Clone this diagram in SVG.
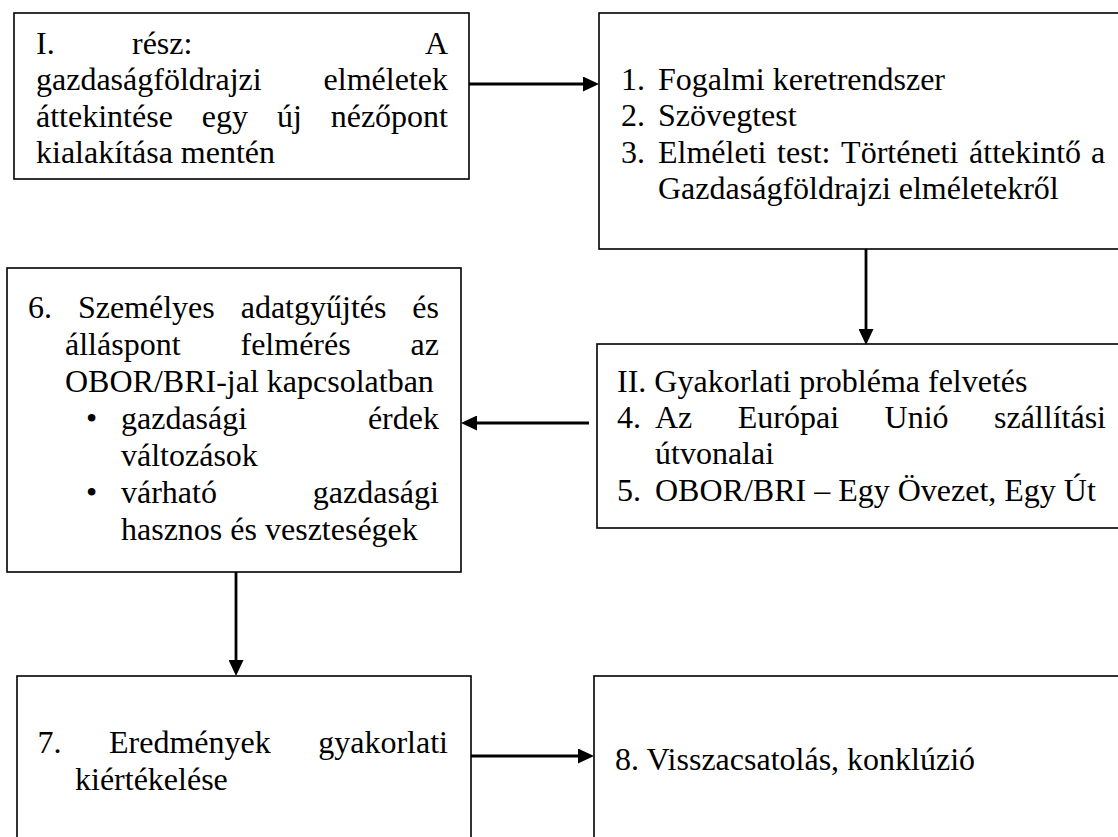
<svg xmlns="http://www.w3.org/2000/svg" width="1118" height="837" viewBox="0 0 1118 837">
  <style>
    .box { fill: #ffffff; stroke: #000000; stroke-width: 1.6; }
    .t { font-family: "Liberation Serif", "Times New Roman", serif; font-size: 32px; fill: #000000; }
    .conn { stroke: #000000; stroke-width: 2.8; fill: none; }
  </style>
  <defs>
    <marker id="head" markerUnits="userSpaceOnUse" markerWidth="16" markerHeight="15" refX="0" refY="7.5" orient="auto">
      <path d="M0,0 L16,7.5 L0,15 Z" fill="#000000"/>
    </marker>
  </defs>

  <rect width="1118" height="837" fill="#ffffff"/>

  <!-- Part I: overview of economic geography theories -->
  <g id="node-part1">
    <rect class="box" x="14" y="13" width="455" height="166"/>
    <text class="t" y="53.5"><tspan x="36">I.</tspan><tspan x="132">rész:</tspan><tspan x="424.9">A</tspan></text>
    <text class="t" y="90"><tspan x="36">gazdaságföldrajzi</tspan><tspan x="323.6">elméletek</tspan></text>
    <text class="t" y="126.5"><tspan x="36">áttekintése</tspan><tspan x="201.8">egy</tspan><tspan x="276.9">új</tspan><tspan x="330.7">nézőpont</tspan></text>
    <text class="t" x="36" y="163">kialakítása mentén</text>
  </g>

  <!-- Chapters 1-3 -->
  <g id="node-chapters-1-3">
    <rect class="box" x="599" y="13" width="530" height="236"/>
    <text class="t" y="89.5"><tspan x="621">1.</tspan><tspan x="658">Fogalmi keretrendszer</tspan></text>
    <text class="t" y="126"><tspan x="621">2.</tspan><tspan x="658">Szövegtest</tspan></text>
    <text class="t" y="162.5"><tspan x="621">3.</tspan><tspan x="658">Elméleti</tspan><tspan x="777.1">test:</tspan><tspan x="841.1">Történeti</tspan><tspan x="969.1">áttekintő</tspan><tspan x="1091">a</tspan></text>
    <text class="t" x="658" y="199">Gazdaságföldrajzi elméletekről</text>
  </g>

  <!-- Part II: practical problem, chapters 4-5 -->
  <g id="node-part2">
    <rect class="box" x="597" y="344" width="532" height="184"/>
    <text class="t" x="617" y="391.5">II. Gyakorlati probléma felvetés</text>
    <text class="t" y="427.5"><tspan x="617">4.</tspan><tspan x="655">Az</tspan><tspan x="737.8">Európai</tspan><tspan x="884.6">Unió</tspan><tspan x="994">szállítási</tspan></text>
    <text class="t" x="655" y="464">útvonalai</text>
    <text class="t" y="501"><tspan x="617">5.</tspan><tspan x="655">OBOR/BRI – Egy Övezet, Egy Út</tspan></text>
  </g>

  <!-- Chapter 6: data collection and survey -->
  <g id="node-chapter6">
    <rect class="box" x="7" y="268" width="454" height="304"/>
    <text class="t" y="318"><tspan x="28">6.</tspan><tspan x="77.9">Személyes</tspan><tspan x="240.7">adatgyűjtés</tspan><tspan x="412.3">és</tspan></text>
    <text class="t" y="355"><tspan x="65">álláspont</tspan><tspan x="240.5">felmérés</tspan><tspan x="410.6">az</tspan></text>
    <text class="t" x="65" y="392">OBOR/BRI-jal kapcsolatban</text>
    <text class="t" y="429"><tspan x="86">•</tspan><tspan x="121">gazdasági</tspan><tspan x="367.9">érdek</tspan></text>
    <text class="t" x="121" y="466">változások</text>
    <text class="t" y="503"><tspan x="86">•</tspan><tspan x="121">várható</tspan><tspan x="312.8">gazdasági</tspan></text>
    <text class="t" x="121" y="540">hasznos és veszteségek</text>
  </g>

  <!-- Chapter 7: evaluation of results -->
  <g id="node-chapter7">
    <rect class="box" x="17" y="676" width="454" height="170"/>
    <text class="t" y="753"><tspan x="37.5">7.</tspan><tspan x="109">Eredmények</tspan><tspan x="318.2">gyakorlati</tspan></text>
    <text class="t" x="75" y="789.5">kiértékelése</text>
  </g>

  <!-- Chapter 8: feedback and conclusion -->
  <g id="node-chapter8">
    <rect class="box" x="594" y="676" width="535" height="170"/>
    <text class="t" x="615" y="769.5">8. Visszacsatolás, konklúzió</text>
  </g>

  <!-- connectors -->
  <g id="connectors">
    <path class="conn" d="M469,84 H583" marker-end="url(#head)"/>
    <path class="conn" d="M866,249 V329" marker-end="url(#head)"/>
    <path class="conn" d="M589,423 H477" marker-end="url(#head)"/>
    <path class="conn" d="M236,572 V660" marker-end="url(#head)"/>
    <path class="conn" d="M471,756 H578" marker-end="url(#head)"/>
  </g>
</svg>
